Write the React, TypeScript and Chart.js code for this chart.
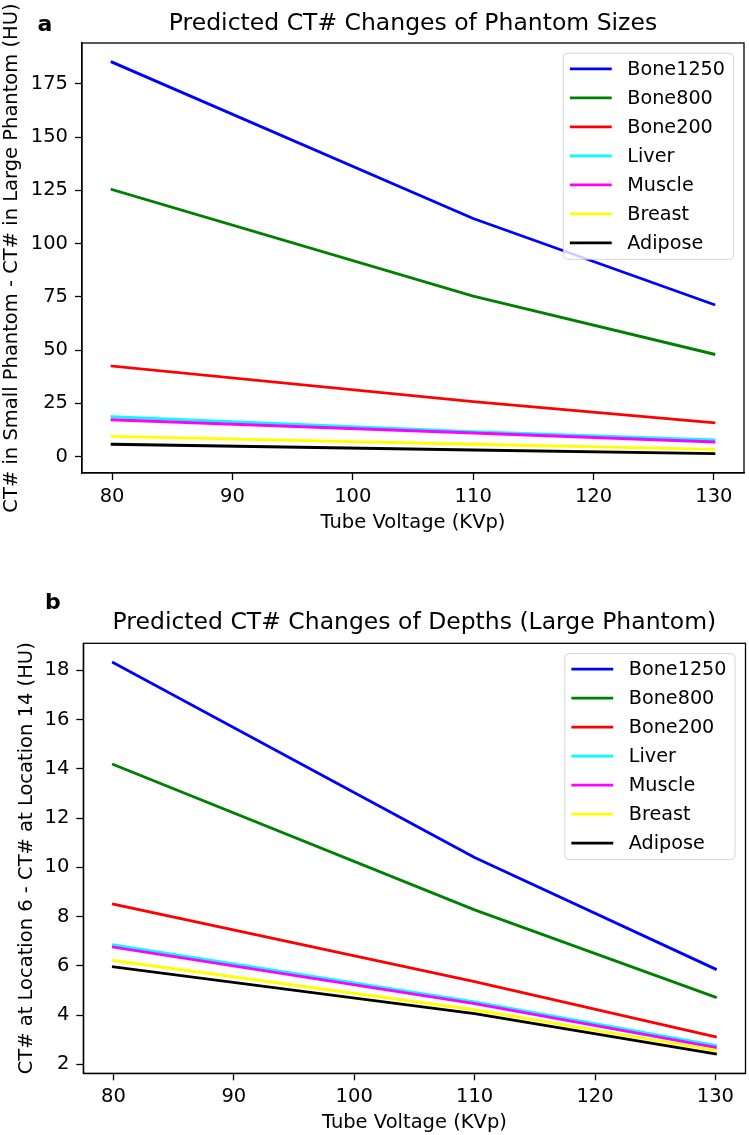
import React, { useEffect, useRef } from 'react';
import { Chart, registerables } from 'chart.js';

Chart.register(...registerables);

// ---------- data ----------
const kvp = [80, 110, 130];
const seriesNames = ['Bone1250', 'Bone800', 'Bone200', 'Liver', 'Muscle', 'Breast', 'Adipose'];
const seriesColors = ['#0000ff', '#008000', '#ff0000', '#00ffff', '#ff00ff', '#ffff00', '#000000'];

// panel a: CT# in small phantom - CT# in large phantom
const sizeBone1250 = [185.2, 111.8, 71.4];
const sizeBone800 = [125.4, 75.3, 48.1];
const sizeBone200 = [42.5, 25.8, 15.9];
const sizeLiver = [18.8, 11.7, 7.8];
const sizeMuscle = [17.3, 11.1, 6.9];
const sizeBreast = [9.5, 5.8, 3.4];
const sizeAdipose = [5.8, 3.1, 1.4];

// panel b: CT# at location 6 - CT# at location 14
const depthBone1250 = [18.3, 10.4, 5.87];
const depthBone800 = [14.17, 8.27, 4.73];
const depthBone200 = [8.5, 5.36, 3.12];
const depthLiver = [6.85, 4.54, 2.77];
const depthMuscle = [6.76, 4.47, 2.69];
const depthBreast = [6.22, 4.22, 2.57];
const depthAdipose = [5.96, 4.06, 2.43];

const xTicks = [80, 90, 100, 110, 120, 130];
const yTicksA = [0, 25, 50, 75, 100, 125, 150, 175];
const yTicksB = [2, 4, 6, 8, 10, 12, 14, 16, 18];

const xRange = [77.5, 132.5];
const yRangeA = [-7.7, 194.2];
const yRangeB = [1.64, 19.09];

const titleA = 'Predicted CT# Changes of Phantom Sizes';
const titleB = 'Predicted CT# Changes of Depths (Large Phantom)';
const xLabel = 'Tube Voltage (KVp)';
const yLabelA = 'CT# in Small Phantom - CT# in Large Phantom (HU)';
const yLabelB = 'CT# at Location 6 - CT# at Location 14 (HU)';

const FONT = 'DejaVu Sans';
const LABEL_SIZE = 19.5;
const TITLE_SIZE = 23.5;

const decorPlugin = {
  id: 'decor',
  afterDatasetsDraw(chart: any, _args: any, opts: any) {
    const { ctx, chartArea: a } = chart;
    ctx.save();
    // axes frame
    ctx.strokeStyle = '#000';
    ctx.lineWidth = 1.3;
    ctx.strokeRect(a.left, a.top, a.right - a.left, a.bottom - a.top);
    // legend
    ctx.font = `19.2px "${FONT}"`;
    const ds = chart.data.datasets;
    const maxW = Math.max(...ds.map((d: any) => ctx.measureText(d.label).width));
    const bw = 64 + maxW + 8.5;
    const rowH = 29;
    const bh = 15.5 * 2 + rowH * (ds.length - 1) + 1;
    const bx = a.right - 10.5 - bw;
    const by = a.top + 10.3;
    ctx.beginPath();
    ctx.roundRect(bx, by, bw, bh, 4);
    ctx.fillStyle = 'rgba(255,255,255,0.8)';
    ctx.fill();
    ctx.strokeStyle = 'rgba(204,204,204,0.8)';
    ctx.lineWidth = 1;
    ctx.stroke();
    ds.forEach((d: any, i: number) => {
      const cy = by + 15.5 + i * rowH;
      ctx.strokeStyle = d.borderColor;
      ctx.lineWidth = 2.85;
      ctx.lineCap = 'square';
      ctx.beginPath();
      ctx.moveTo(bx + 8, cy);
      ctx.lineTo(bx + 47, cy);
      ctx.stroke();
      ctx.fillStyle = '#000';
      ctx.textBaseline = 'middle';
      ctx.textAlign = 'left';
      ctx.fillText(d.label, bx + 64, cy + 1);
    });
    // panel letter
    ctx.font = `bold 22px "${FONT}"`;
    ctx.textBaseline = 'alphabetic';
    ctx.textAlign = 'left';
    ctx.fillStyle = '#000';
    ctx.fillText(opts.letter, opts.letterX, opts.letterY);
    ctx.restore();
  },
};

type PanelProps = {
  top: number;
  height: number;
  series: number[][];
  yTicks: number[];
  yRange: number[];
  title: string;
  yLabel: string;
  letter: string;
  letterX: number;
  letterY: number;
  yAxisWidth: number;
  xAxisHeight: number;
  padRight: number;
  titlePadTop: number;
  titlePadBottom: number;
  xTitlePadBottom: number;
  yTitlePadTop: number;
};

function Panel(p: PanelProps) {
  const ref = useRef<HTMLCanvasElement | null>(null);
  useEffect(() => {
    if (!ref.current) return;
    const font = { family: FONT, size: LABEL_SIZE };
    const chart = new Chart(ref.current, {
      type: 'line',
      data: {
        datasets: p.series.map((vals, i) => ({
          label: seriesNames[i],
          data: kvp.map((x, j) => ({ x, y: vals[j] })),
          borderColor: seriesColors[i],
          backgroundColor: seriesColors[i],
          borderWidth: 2.85,
          pointRadius: 0,
          fill: false,
          tension: 0,
          borderCapStyle: 'square',
          borderJoinStyle: 'round',
          order: seriesNames.length - i,
        })),
      },
      options: {
        responsive: false,
        animation: false,
        devicePixelRatio: 1,
        layout: { padding: { left: 0, right: p.padRight, top: 0, bottom: 0 } },
        plugins: {
          legend: { display: false },
          tooltip: { enabled: false },
          title: {
            display: true,
            text: p.title,
            fullSize: false,
            color: '#000',
            font: { family: FONT, size: TITLE_SIZE, weight: 'normal', lineHeight: 1.2 },
            padding: { top: p.titlePadTop, bottom: p.titlePadBottom },
          },
          decor: { letter: p.letter, letterX: p.letterX, letterY: p.letterY },
        } as any,
        scales: {
          x: {
            type: 'linear',
            min: xRange[0],
            max: xRange[1],
            afterBuildTicks: (s: any) => {
              s.ticks = xTicks.map((v) => ({ value: v }));
            },
            afterFit: (s: any) => {
              s.height = p.xAxisHeight;
            },
            grid: {
              display: true,
              drawOnChartArea: false,
              drawTicks: true,
              tickLength: 7,
              tickWidth: 1.3,
              tickColor: '#000',
            },
            border: { display: true, color: '#000', width: 1.3 },
            ticks: { font, color: '#000', padding: 5, maxRotation: 0, autoSkip: false },
            title: {
              display: true,
              text: xLabel,
              color: '#000',
              font: { ...font, lineHeight: 1.2 },
              padding: { top: 0, bottom: p.xTitlePadBottom },
            },
          },
          y: {
            type: 'linear',
            min: p.yRange[0],
            max: p.yRange[1],
            afterBuildTicks: (s: any) => {
              s.ticks = p.yTicks.map((v) => ({ value: v }));
            },
            afterFit: (s: any) => {
              s.width = p.yAxisWidth;
            },
            grid: {
              display: true,
              drawOnChartArea: false,
              drawTicks: true,
              tickLength: 7,
              tickWidth: 1.3,
              tickColor: '#000',
            },
            border: { display: true, color: '#000', width: 1.3 },
            ticks: { font, color: '#000', padding: 7, autoSkip: false },
            title: {
              display: true,
              text: p.yLabel,
              color: '#000',
              font: { ...font, lineHeight: 1.2 },
              padding: { top: p.yTitlePadTop, bottom: 0 },
            },
          },
        },
      } as any,
      plugins: [decorPlugin],
    });
    return () => chart.destroy();
  }, []);
  return (
    <canvas
      ref={ref}
      width={749}
      height={p.height}
      style={{ position: 'absolute', left: 0, top: p.top, width: 749, height: p.height, display: 'block' }}
    />
  );
}

export default function App() {
  return (
    <div style={{ position: 'absolute', left: 0, top: 0, width: 749, height: 1135, background: '#fff', overflow: 'hidden' }}>
      <Panel
        top={0}
        height={560}
        series={[sizeBone1250, sizeBone800, sizeBone200, sizeLiver, sizeMuscle, sizeBreast, sizeAdipose]}
        yTicks={yTicksA}
        yRange={yRangeA}
        title={titleA}
        yLabel={yLabelA}
        letter="a"
        letterX={37.5}
        letterY={30.7}
        yAxisWidth={82}
        xAxisHeight={87}
        padRight={5}
        titlePadTop={9.5}
        titlePadBottom={5.3}
        xTitlePadBottom={25.7}
        yTitlePadTop={0}
      />
      <Panel
        top={560}
        height={575}
        series={[depthBone1250, depthBone800, depthBone200, depthLiver, depthMuscle, depthBreast, depthAdipose]}
        yTicks={yTicksB}
        yRange={yRangeB}
        title={titleB}
        yLabel={yLabelB}
        letter="b"
        letterX={45}
        letterY={49.3}
        yAxisWidth={83.3}
        xAxisHeight={61.7}
        padRight={3.5}
        titlePadTop={49}
        titlePadBottom={6.1}
        xTitlePadBottom={0.3}
        yTitlePadTop={15}
      />
    </div>
  );
}
